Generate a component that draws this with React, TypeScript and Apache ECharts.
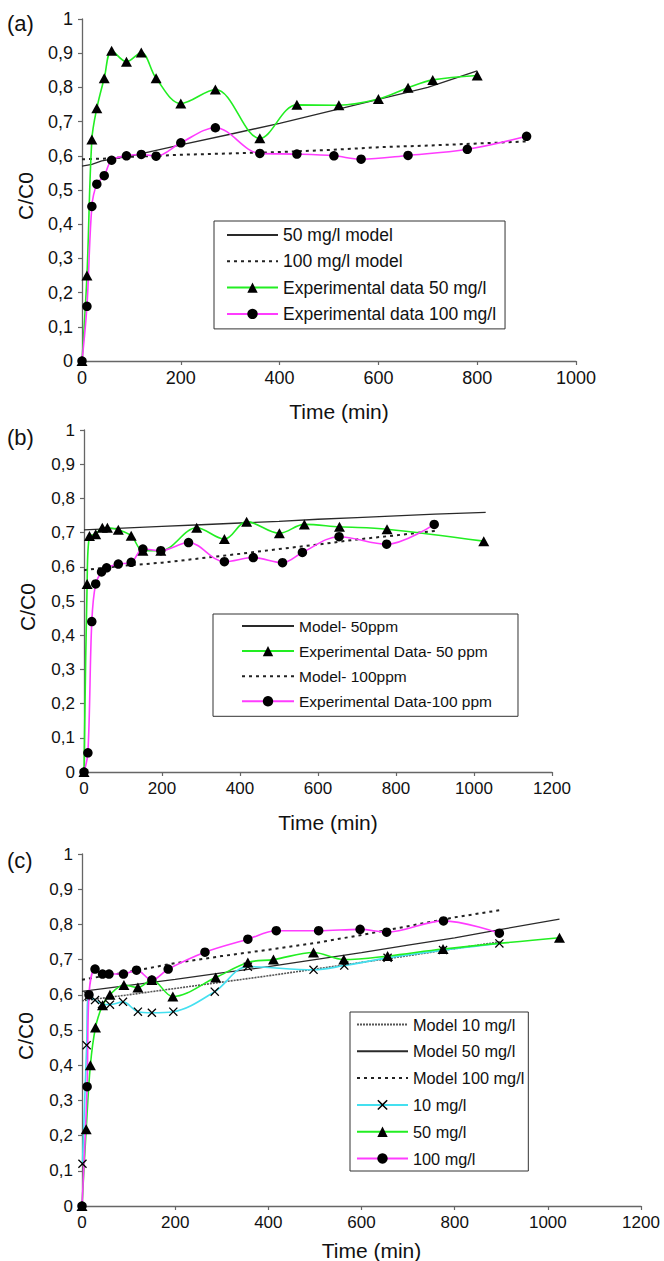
import React, { useEffect, useRef } from 'react';
import * as echarts from 'echarts';

const FONT = '"Liberation Sans", Arial, Helvetica, sans-serif';

// ---------- Panel (a) ----------
const a50Model = [[0,0.57],[20,0.575],[40,0.585],[100,0.60],[200,0.632],[300,0.663],[400,0.695],[500,0.73],[600,0.765],[700,0.80],[800,0.848]];
const a100Model = [[0,0.59],[50,0.592],[100,0.597],[200,0.603],[300,0.607],[400,0.611],[500,0.617],[600,0.625],[700,0.63],[800,0.636],[900,0.642]];
const a50Exp = [[0,0],[10,0.25],[20,0.648],[30,0.739],[45,0.827],[60,0.907],[90,0.875],[120,0.902],[150,0.827],[200,0.753],[270,0.794],[360,0.651],[435,0.749],[520,0.748],[600,0.766],[660,0.799],[710,0.822],[800,0.835]];
const a100Exp = [[0,0],[10,0.16],[20,0.452],[30,0.517],[45,0.542],[60,0.587],[90,0.600],[120,0.604],[150,0.599],[200,0.638],[270,0.682],[360,0.607],[435,0.605],[510,0.60],[565,0.59],[660,0.601],[780,0.619],[900,0.657]];

// ---------- Panel (b) ----------
const b50Model = [[0,0.708],[100,0.713],[200,0.718],[300,0.723],[400,0.728],[500,0.733],[600,0.739],[700,0.744],[800,0.749],[900,0.754],[1030,0.759]];
const b50Exp = [[0,0],[8,0.55],[14,0.69],[30,0.695],[47,0.714],[60,0.714],[88,0.708],[121,0.691],[151,0.647],[197,0.647],[289,0.714],[360,0.681],[417,0.732],[501,0.698],[565,0.724],[655,0.717],[777,0.71],[1025,0.675]];
const b100Model = [[0,0.59],[50,0.597],[100,0.603],[200,0.612],[300,0.625],[400,0.638],[500,0.652],[600,0.665],[700,0.68],[800,0.692],[900,0.705]];
const b100Exp = [[0,0],[10,0.056],[20,0.44],[30,0.55],[45,0.585],[58,0.597],[88,0.608],[121,0.613],[151,0.652],[197,0.647],[268,0.671],[360,0.615],[434,0.627],[509,0.612],[560,0.642],[654,0.688],[776,0.666],[898,0.724]];

// ---------- Panel (c) ----------
const c10Model = [[0,0.583],[100,0.60],[200,0.618],[300,0.636],[400,0.654],[500,0.673],[600,0.692],[700,0.711],[800,0.731],[900,0.751]];
const c50Model = [[0,0.61],[100,0.627],[200,0.644],[300,0.662],[400,0.68],[500,0.70],[600,0.72],[700,0.741],[800,0.762],[900,0.786],[1025,0.815]];
const c100Model = [[0,0.643],[100,0.665],[200,0.69],[300,0.71],[400,0.728],[500,0.747],[600,0.77],[700,0.795],[800,0.82],[900,0.841]];
const c10Exp = [[1,0.12],[10,0.457],[14,0.597],[28,0.585],[43,0.574],[60,0.572],[88,0.58],[120,0.552],[150,0.549],[196,0.552],[285,0.609],[356,0.68],[497,0.671],[563,0.683],[656,0.705],[775,0.727],[896,0.746]];
const c50Exp = [[0,0],[9,0.218],[18,0.40],[29,0.507],[44,0.57],[60,0.60],[90,0.628],[120,0.621],[150,0.642],[195,0.595],[287,0.649],[356,0.692],[411,0.70],[497,0.72],[562,0.70],[656,0.71],[775,0.73],[1025,0.762]];
const c100Exp = [[0,0],[11,0.339],[15,0.60],[28,0.673],[44,0.659],[58,0.659],[89,0.659],[117,0.67],[150,0.642],[185,0.673],[264,0.721],[356,0.758],[417,0.782],[508,0.782],[597,0.786],[654,0.778],[776,0.81],[896,0.775]];

const panelLabels = ['(a)', '(b)', '(c)'];
const xMaxes = [1000, 1200, 1200];

const GREEN = '#22ee22';
const PINK = '#ff3cff';
const CYAN = '#44e0f0';
const DARK = '#2a2a2a';
const CROSS = 'path://M0,1L1,0L5,4L9,0L10,1L6,5L10,9L9,10L5,6L1,10L0,9L4,5Z';

function yFmt(v: number) {
  if (v === 0) return '0';
  if (v === 1) return '1';
  return v.toFixed(1).replace('.', ',');
}

function xAxis(gi: number, max: number, nameGap: number, fs: number) {
  return {
    type: 'value', gridIndex: gi, min: 0, max, interval: 200,
    name: 'Time (min)', nameLocation: 'middle', nameGap,
    nameTextStyle: { fontSize: 21, color: '#111', fontFamily: FONT, padding: [0, 0, 0, 20] },
    axisLine: { show: true, onZero: false, lineStyle: { color: '#666', width: 1.3 } },
    axisTick: { show: true, length: 4, lineStyle: { color: '#666', width: 1.2 } },
    axisLabel: { fontSize: fs, color: '#111', fontFamily: FONT, margin: 8, formatter: (v: number) => String(v) },
    splitLine: { show: false },
  };
}

function yAxis(gi: number, fs: number) {
  return {
    type: 'value', gridIndex: gi, min: 0, max: 1, interval: 0.1,
    name: 'C/C0', nameLocation: 'middle', nameGap: 46,
    nameTextStyle: { fontSize: 21, color: '#111', fontFamily: FONT, padding: [0, 12, 0, 0] },
    axisLine: { show: true, onZero: false, lineStyle: { color: '#666', width: 1.3 } },
    axisTick: { show: true, length: 4, lineStyle: { color: '#666', width: 1.2 } },
    axisLabel: { fontSize: fs, color: '#111', fontFamily: FONT, margin: 9, formatter: yFmt },
    splitLine: { show: false },
  };
}

function model(name: string, gi: number, data: number[][], dash: any, color = DARK, width = 1.3) {
  return {
    type: 'line', name, xAxisIndex: gi, yAxisIndex: gi, data,
    symbol: 'none', showSymbol: false, smooth: false,
    lineStyle: { color, width, type: dash },
    itemStyle: { color: 'rgba(0,0,0,0)', borderColor: 'rgba(0,0,0,0)', borderWidth: 0 },
    z: 2,
  };
}

function exp(name: string, gi: number, data: number[][], color: string, symbol: string, size: any) {
  return {
    type: 'line', name, xAxisIndex: gi, yAxisIndex: gi, data,
    symbol, symbolSize: size, showSymbol: true, smooth: 0.35,
    lineStyle: { color, width: 1.6 },
    itemStyle: { color: '#000' },
    z: 3,
  };
}

function legend(names: string[], left: number, top: number, padding: number[], gap: number, fs: number, lh: number, iw: number) {
  return {
    show: true, orient: 'vertical', left, top, padding, itemGap: gap,
    itemWidth: iw, itemHeight: 13,
    borderColor: '#333', borderWidth: 1, backgroundColor: '#fff',
    textStyle: { fontSize: fs, lineHeight: lh, color: '#111', fontFamily: FONT },
    data: names, selectedMode: false,
  };
}

const option: any = {
  animation: false,
  backgroundColor: '#fff',
  textStyle: { fontFamily: FONT },
  grid: [
    { left: 82, top: 19, width: 494, height: 342, outerBoundsMode: 'none' },
    { left: 84, top: 430, width: 468, height: 342, outerBoundsMode: 'none' },
    { left: 82, top: 854, width: 559, height: 352, outerBoundsMode: 'none' },
  ],
  xAxis: [xAxis(0, xMaxes[0], 40, 18), xAxis(1, xMaxes[1], 40, 17), xAxis(2, xMaxes[2], 34, 17)],
  yAxis: [yAxis(0, 18), yAxis(1, 17), yAxis(2, 17)],
  legend: [
    legend(['50 mg/l model', '100 mg/l model', 'Experimental data 50 mg/l', 'Experimental data 100 mg/l'], 214, 221, [4, 9, 5, 12], 6.3, 17.5, 20, 51),
    legend(['Model- 50ppm', 'Experimental Data- 50 ppm', 'Model- 100ppm', 'Experimental Data-100 ppm'], 213, 614, [3, 26, 6, 28], 7.1, 15.5, 18, 52),
    legend(['Model 10 mg/l', 'Model 50 mg/l', 'Model 100 mg/l', '10 mg/l', '50 mg/l', '100 mg/l'], 350, 1012, [3, 4, 3, 6], 7.8, 16.3, 19, 51),
  ],
  graphic: panelLabels.map((t, i) => ({
    type: 'text', left: 7, top: [12, 426, 849][i],
    style: { text: t, fontSize: 22, fill: '#111', fontFamily: FONT },
  })),
  series: [
    model('50 mg/l model', 0, a50Model, 'solid'),
    model('100 mg/l model', 0, a100Model, [3, 4], '#222', 2),
    exp('Experimental data 50 mg/l', 0, a50Exp, GREEN, 'triangle', [11, 10]),
    exp('Experimental data 100 mg/l', 0, a100Exp, PINK, 'circle', 9.5),

    model('Model- 50ppm', 1, b50Model, 'solid'),
    exp('Experimental Data- 50 ppm', 1, b50Exp, GREEN, 'triangle', [11, 10]),
    model('Model- 100ppm', 1, b100Model, [3, 4], '#222', 2),
    exp('Experimental Data-100 ppm', 1, b100Exp, PINK, 'circle', 9.5),

    model('Model 10 mg/l', 2, c10Model, [2, 1], '#555', 1.6),
    model('Model 50 mg/l', 2, c50Model, 'solid'),
    model('Model 100 mg/l', 2, c100Model, [3, 4], '#222', 2),
    exp('10 mg/l', 2, c10Exp, CYAN, CROSS, 9),
    exp('50 mg/l', 2, c50Exp, GREEN, 'triangle', [11, 10]),
    exp('100 mg/l', 2, c100Exp, PINK, 'circle', 9.5),
  ],
};

export default function App() {
  const ref = useRef<HTMLDivElement>(null);
  useEffect(() => {
    const chart = echarts.init(ref.current!, null, { renderer: 'svg' });
    chart.setOption(option);
    return () => chart.dispose();
  }, []);
  return (
    <div
      ref={ref}
      style={{ position: 'absolute', left: 0, top: 0, width: 664, height: 1261, background: '#fff' }}
    />
  );
}
